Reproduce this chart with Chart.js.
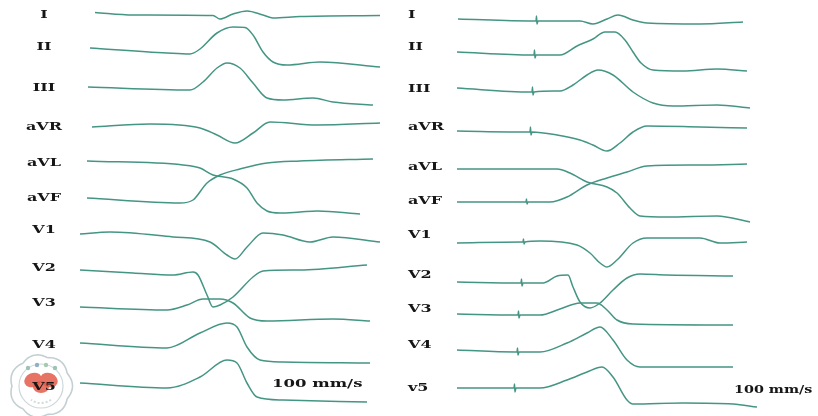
<!DOCTYPE html>
<html>
<head>
<meta charset="utf-8">
<title>12-lead ECG 100 mm/s</title>
<script src="https://cdn.jsdelivr.net/npm/chart.js@4/dist/chart.umd.min.js"></script>
<style>
  html, body { margin: 0; padding: 0; background: #fff; overflow: hidden; }
  #wrap { position: relative; width: 818px; height: 416px; }
  canvas { position: absolute; top: 0; }
  #left { left: 0; }
  #right { left: 400px; }
</style>
</head>
<body>
<div id="wrap">
  <canvas id="left" width="400" height="416"></canvas>
  <canvas id="right" width="418" height="416"></canvas>
</div>
<script>
// lead names as printed on the strip
var leftNames  = ['I','II','III','aVR','aVL','aVF','V1','V2','V3','V4','V5'];
var rightNames = ['I','II','III','aVR','aVL','aVF','V1','V2','V3','V4','v5'];
var speedLabel = '100 mm/s';

// samples: [time ms, amplitude] (amplitude up = positive)
// left recording
var leftI   = [[50,2.5],[126,0],[286,-0.5],[300,-4],[326,1],[354,4],[386,0],[406,-3],[460,-1.5],[620,-0.5]];
var leftII  = [[40,-1],[194,-6],[240,-7],[260,-2],[294,14],[326,20],[350,19.5],[366,12],[386,-5],[406,-15],[434,-18],[500,-15],[620,-20]];
var leftIII = [[36,1],[240,-2],[266,6],[294,20],[314,25],[340,20],[366,5],[394,-10],[426,-12],[486,-10],[526,-14],[606,-17]];
var leftAVR = [[44,0],[160,3],[260,-1],[294,-8],[330,-16],[366,-6],[400,5],[494,2],[620,4]];
var leftAVL = [[34,2],[226,-2],[260,-5],[286,-12],[326,-16],[354,-25],[374,-40],[394,-48],[420,-50],[460,-49],[494,-48],[580,-51]];
var leftAVF = [[34,0],[220,-5],[246,-2],[274,15],[300,23],[340,29],[394,35],[460,37],[606,39]];
var leftV1  = [[20,-4],[80,-2],[206,-7],[280,-12],[314,-25],[330,-29],[354,-17],[386,-3],[426,-5],[480,-12],[526,-7],[620,-12]];
var leftV2  = [[20,-2],[126,-5],[206,-7],[246,-4],[256,-7],[274,-27],[286,-39],[300,-37],[326,-29],[366,-9],[386,-3],[460,-2],[594,3]];
var leftV3  = [[20,-4],[194,-7],[234,-2],[266,4],[300,4],[326,0],[360,-15],[394,-18],[526,-16],[600,-18]];
var leftV4  = [[20,2],[194,-3],[260,12],[314,22],[334,18],[354,-2],[380,-15],[426,-17],[600,-18]];
var leftV5  = [[20,4],[194,-1],[260,10],[314,27],[334,24],[354,4],[374,-10],[426,-13],[594,-15]];

// right recording (small pacing spike before each complex)
var rightI   = [[16,-4],[166,-6],[172,-6],[173,-1],[174,-9],[176,-6],[260,-6],[286,-9],[314,-4],[336,0],[366,-5],[394,-8],[500,-9],[586,-7]];
var rightII  = [[14,-5],[164,-8],[168,-8],[169,-3],[170,-11],[172,-8],[220,-8],[254,1],[286,8],[310,15],[330,15],[350,7],[366,-5],[382,-16],[406,-23],[466,-24],[534,-22],[594,-24]];
var rightIII = [[14,1],[160,-3],[164,-3],[165,2],[166,-6],[168,-3],[220,-2],[246,4],[274,14],[296,19],[326,14],[366,-3],[406,-14],[446,-17],[534,-16],[600,-19]];
var rightAVR = [[14,-4],[156,-5],[160,-5],[161,0],[162,-8],[164,-5],[214,-8],[260,-13],[286,-18],[314,-24],[340,-16],[366,-5],[394,1],[500,0],[594,-1]];
var rightAVL = [[14,-2],[214,-2],[240,-6],[274,-15],[314,-20],[334,-26],[360,-41],[380,-49],[434,-50],[534,-49],[600,-55]];
var rightAVF = [[14,-1],[150,-1],[152,-1],[153,2],[154,-3],[156,-1],[200,-1],[234,4],[274,16],[314,23],[354,29],[394,35],[500,36],[594,37]];
var rightV1  = [[14,-8],[144,-7],[146,-7],[147,-4],[148,-9],[150,-7],[180,-6],[254,-10],[280,-18],[300,-28],[314,-32],[334,-25],[366,-8],[394,-3],[500,-3],[540,-8],[594,-7]];
var rightV2  = [[14,-7],[140,-8],[142,-8],[143,-4],[144,-11],[146,-8],[186,-8],[214,-1],[236,0],[246,-12],[260,-27],[280,-33],[300,-28],[326,-15],[354,-3],[380,1],[434,0],[566,-1]];
var rightV3  = [[14,-5],[132,-6],[136,-6],[137,-2],[138,-9],[140,-6],[180,-6],[220,0],[260,6],[294,6],[314,-1],[334,-11],[366,-15],[566,-16]];
var rightV4  = [[14,-5],[130,-7],[134,-7],[135,-3],[136,-10],[138,-7],[180,-7],[234,2],[274,12],[300,18],[326,5],[354,-15],[380,-22],[566,-22]];
var rightV5  = [[14,0],[124,0],[128,0],[129,4],[130,-4],[132,0],[180,0],[234,8],[274,16],[304,21],[326,11],[354,-12],[366,-16],[466,-15],[566,-16],[614,-19]];

var leftLeads  = [leftI, leftII, leftIII, leftAVR, leftAVL, leftAVF, leftV1, leftV2, leftV3, leftV4, leftV5];
var rightLeads = [rightI, rightII, rightIII, rightAVR, rightAVL, rightAVF, rightV1, rightV2, rightV3, rightV4, rightV5];

// layout: row position of each lead on the strip (y scale, top = 0)
var leftRows  = [15, 47, 88, 127, 163, 198, 230, 268, 303, 345, 387];
var rightRows = [15, 47, 89, 127, 167, 201, 235, 275, 309, 345, 388];

var traceColor = '#449584';
var textColor = '#161616';
var labelFont = 'bold 11px "DejaVu Serif"';

function stretchText(ctx, txt, x, y, align, sx) {
  ctx.save();
  ctx.translate(x, y);
  ctx.scale(sx, 1);
  ctx.textAlign = align;
  ctx.textBaseline = 'middle';
  ctx.fillText(txt, 0, 0);
  ctx.restore();
}

function drawLogo(ctx, cx, cy) {
  ctx.save();
  // scalloped outer ring
  ctx.beginPath();
  var n = 7, r = 29;
  for (var i = 0; i <= 360; i += 3) {
    var a = i * Math.PI / 180;
    var rr = r + 2.5 * Math.abs(Math.cos(a * n / 2));
    var px = cx + rr * Math.cos(a), py = cy + rr * Math.sin(a);
    if (i === 0) ctx.moveTo(px, py); else ctx.lineTo(px, py);
  }
  ctx.strokeStyle = '#c4cfd3';
  ctx.lineWidth = 1.6;
  ctx.stroke();
  ctx.beginPath();
  ctx.arc(cx, cy, 22, 0, Math.PI * 2);
  ctx.strokeStyle = '#cdd7da';
  ctx.lineWidth = 1.2;
  ctx.stroke();
  // red emblem
  ctx.fillStyle = 'rgba(226,90,72,0.85)';
  ctx.beginPath();
  ctx.ellipse(cx - 8, cy - 6, 9, 7, -0.4, 0, Math.PI * 2);
  ctx.ellipse(cx + 8, cy - 6, 9, 7, 0.4, 0, Math.PI * 2);
  ctx.fill();
  ctx.beginPath();
  ctx.ellipse(cx, cy + 1, 8, 6, 0, 0, Math.PI * 2);
  ctx.fill();
  // small dots along the top
  var dots = ['#9cc3b8', '#8fb0c8', '#a6c9b0', '#9cc3b8'];
  for (var k = 0; k < 4; k++) {
    ctx.beginPath();
    ctx.arc(cx - 13 + k * 9, cy - 21 + (k === 0 || k === 3 ? 3 : 0), 2.2, 0, Math.PI * 2);
    ctx.fillStyle = dots[k];
    ctx.fill();
  }
  // faint lettering round the bottom
  ctx.strokeStyle = '#d3dadb';
  ctx.lineWidth = 2;
  ctx.setLineDash([2, 2]);
  ctx.beginPath();
  ctx.arc(cx, cy, 17, 0.3 * Math.PI, 0.7 * Math.PI);
  ctx.stroke();
  ctx.restore();
}

var stripText = {
  id: 'stripText',
  beforeDatasetsDraw: function(chart, args, opts) {
    if (opts.logo) drawLogo(chart.ctx, 41, 386);
  },
  afterDatasetsDraw: function(chart, args, opts) {
    var ctx = chart.ctx, x = chart.scales.x, y = chart.scales.y;
    ctx.save();
    ctx.fillStyle = textColor;
    ctx.font = labelFont;
    opts.names.forEach(function(name, i) {
      stretchText(ctx, name, opts.labelX, y.getPixelForValue(opts.rows[i]), opts.align, 1.45);
    });
    stretchText(ctx, speedLabel, x.getPixelForValue(opts.note[0]), y.getPixelForValue(opts.note[1]), 'left', opts.noteScale);
    ctx.restore();
  }
};

function makeStrip(id, leads, rows, names, padLeft, xMax, labelX, align, note, noteScale, logo) {
  var datasets = leads.map(function(pts, i) {
    return {
      label: names[i],
      data: pts.map(function(p) { return { x: p[0], y: rows[i] - p[1] }; }),
      borderColor: traceColor,
      borderWidth: 1.5,
      pointRadius: 0,
      fill: false,
      cubicInterpolationMode: 'monotone'
    };
  });
  return new Chart(document.getElementById(id), {
    type: 'line',
    data: { datasets: datasets },
    options: {
      responsive: false,
      animation: false,
      devicePixelRatio: 1,
      layout: { padding: { left: padLeft, right: 0, top: 0, bottom: 0 } },
      plugins: {
        legend: { display: false },
        tooltip: { enabled: false },
        stripText: { names: names, rows: rows, labelX: labelX, align: align, note: note, noteScale: noteScale, logo: logo }
      },
      scales: {
        x: { type: 'linear', display: false, min: 0, max: xMax },
        y: { type: 'linear', display: false, reverse: true, min: 0, max: 416 }
      }
    },
    plugins: [stripText]
  });
}

// 2 ms per pixel; left strip starts at x=70, right at x=450
makeStrip('left',  leftLeads,  leftRows,  leftNames,  70, 660, 44, 'center', [404, 384], 1.5, true);
makeStrip('right', rightLeads, rightRows, rightNames, 50, 736, 8,  'left',   [568, 390], 1.3, false);
</script>
</body>
</html>
